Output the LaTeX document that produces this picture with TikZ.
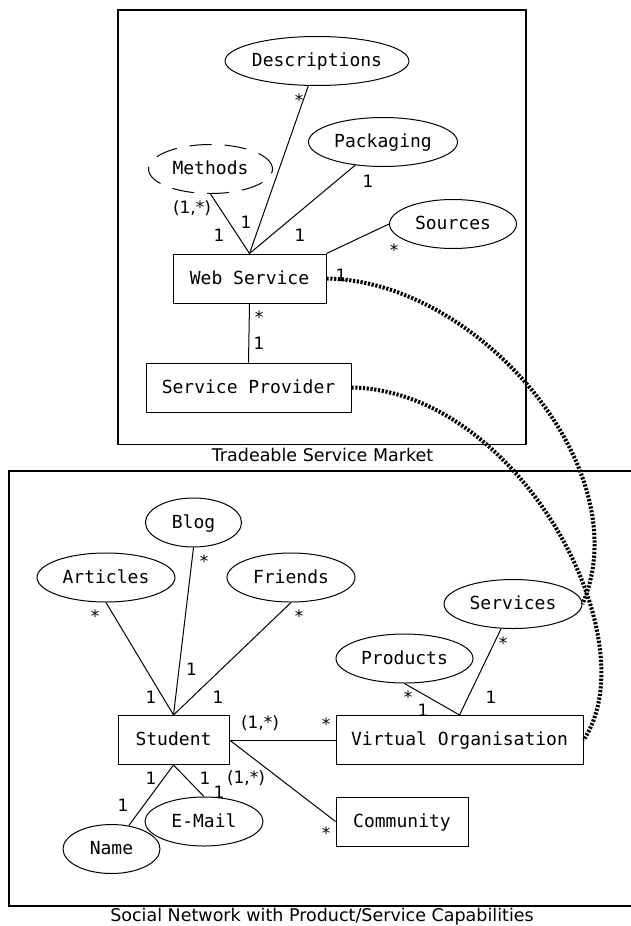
\documentclass[tikz,border=0pt]{standalone}
\usepackage{fontspec}
\setsansfont{DejaVu Sans}
\setmonofont{DejaVu Sans Mono}
\usetikzlibrary{shapes.geometric}

\begin{document}
\begin{tikzpicture}[x=1pt, y=-1pt,
	thing/.style={draw, line width=1pt, inner sep=0pt, minimum height=49pt, text height=15pt, text depth=4pt, font=\ttfamily\fontsize{18}{20}\selectfont},
	entity/.style={thing, rectangle},
	attrib/.style={thing, ellipse},
	card/.style={inner sep=0pt, font=\sffamily\fontsize{17}{20}\selectfont},
	caption/.style={inner sep=0pt, anchor=base, font=\sffamily\fontsize{17.5}{20}\selectfont},
	rel/.style={line width=1pt},
	link/.style={line width=4pt, dash pattern=on 2.2pt off 1.6pt}]
			\useasboundingbox (0,0) rectangle (630,926);
			%%%%% START %%%%%
			
			% market frame
			\draw[line width=1.2pt] (118,10) rectangle (526,444.5);
			\node[caption] (mcap) at (322.5,461.7) {Tradeable Service Market};
			
			\node[attrib, minimum width=180pt] (desc) at (317,61) {Descriptions};
			\node[attrib, minimum width=149pt] (pack) at (383,142) {Packaging};
			\node[attrib, minimum width=124pt, dash pattern=on 22pt off 13pt] (meth) at (210.5,169) {Methods};
			\node[attrib, minimum width=127pt] (src) at (453,224) {Sources};
			\node[entity, minimum width=153pt] (ws) at (249.5,278.5) {Web Service};
			\node[entity, minimum width=205pt] (sp) at (248.5,387.5) {Service Provider};
			
			\draw[rel] (ws.north) -- (meth.south);
			\draw[rel] (ws.north) -- (desc);
			\draw[rel] (ws.north) -- (pack);
			\draw[rel] (ws.north east) -- (src.west);
			\draw[rel] (ws.south) -- (sp.north);
			
			\node[card] (c1) at (299,100) {*};
			\node[card] (c2) at (246,222) {1};
			\node[card] (c3) at (192,208) {(1,*)};
			\node[card] (c4) at (219,235) {1};
			\node[card] (c5) at (368,181) {1};
			\node[card] (c6) at (300,235) {1};
			\node[card] (c7) at (394,250) {*};
			\node[card] (c8) at (259,317) {*};
			\node[card] (c9) at (259,343) {1};
			\node[card] (c10) at (341,275) {1};
			
			% social network frame
			\draw[line width=1.2pt] (9,471) rectangle (660,906);
			\node[caption] (scap) at (322,921) {Social Network with Product/Service Capabilities};
			
			\node[attrib, minimum width=96pt] (blog) at (193.5,522.5) {Blog};
			\node[attrib, minimum width=138pt] (art) at (106,577.5) {Articles};
			\node[attrib, minimum width=128pt] (fr) at (291,577.5) {Friends};
			\node[attrib, minimum width=138pt] (serv) at (513,604) {Services};
			\node[attrib, minimum width=137pt] (prod) at (404.5,658.5) {Products};
			\node[entity, minimum width=111pt] (stud) at (173.5,740) {Student};
			\node[entity, minimum width=247pt] (vo) at (459.5,740) {Virtual Organisation};
			\node[entity, minimum width=132pt] (comm) at (402,821.5) {Community};
			\node[attrib, minimum width=118pt] (mail) at (204,821.5) {E-Mail};
			\node[attrib, minimum width=97pt] (name) at (111.5,849) {Name};
			
			\draw[rel] (stud.north) -- (art.south);
			\draw[rel] (stud.north) -- (blog.south);
			\draw[rel] (stud.north) -- (fr.south);
			\draw[rel] (stud.east) -- (vo.west);
			\draw[rel] (stud.east) -- (comm.west);
			\draw[rel] (stud.south) -- (name);
			\draw[rel] (stud.south) -- (mail.north);
			\draw[rel] (vo.north) -- (prod.south);
			\draw[rel] (vo.north) -- (serv);
			
			\node[card] (d1) at (95,616) {*};
			\node[card] (d2) at (151,697) {1};
			\node[card] (d3) at (204,561) {*};
			\node[card] (d4) at (191.5,669) {1};
			\node[card] (d5) at (299,616) {*};
			\node[card] (d6) at (218,697) {1};
			\node[card] (d7) at (260,723) {(1,*)};
			\node[card] (d8) at (326,724) {*};
			\node[card] (d9) at (246,778) {(1,*)};
			\node[card] (d10) at (326,833) {*};
			\node[card] (d11) at (151,778) {1};
			\node[card] (d12) at (123,805) {1};
			\node[card] (d13) at (205,778) {1};
			\node[card] (d14) at (219,792) {1};
			\node[card] (d15) at (408,697) {*};
			\node[card] (d16) at (423,710) {1};
			\node[card] (d17) at (503,643) {*};
			\node[card] (d18) at (491,697) {1};
			
			% market to network
			\draw[link] (ws.east) .. controls +(152,2) and +(58,-134) .. (serv.east);
			\draw[link] (sp.east) .. controls +(168,3) and +(67,-100) .. (vo.east);
			
			%%%%% END %%%%%
\end{tikzpicture}
\end{document}
